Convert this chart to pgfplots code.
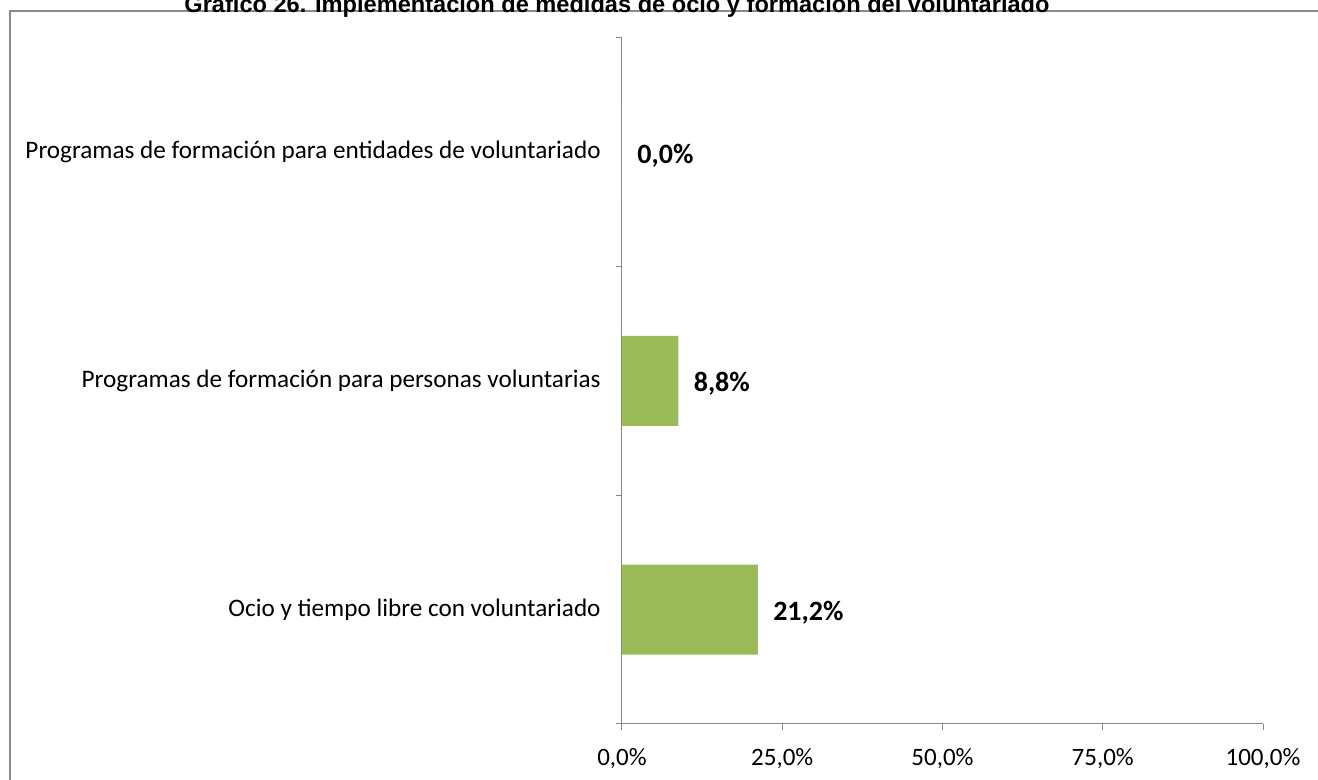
\documentclass[border=0pt]{standalone}
\usepackage{pgfplots}
\pgfplotsset{compat=1.18}
\usepackage{fontspec}
\setmainfont{Carlito}
\newfontfamily\arialfont{Liberation Sans}
\definecolor{bargreen}{HTML}{9BBB59}
\definecolor{axgray}{HTML}{868686}
\definecolor{framegray}{HTML}{8A8A8A}
\begin{document}
\begin{tikzpicture}[x=0.5pt,y=0.5pt]
\path[use as bounding box] (0,0) rectangle (1318,780);
\clip (0,0) rectangle (1318,780);
% frame
\draw[framegray, line width=1.2pt] (10,769) rectangle (1340,-20);
% title
\node[anchor=base, inner sep=0pt, font=\arialfont\bfseries\fontsize{11.8}{14}\selectfont] at (617,767) {Gráfico 26. Implementación de medidas de ocio y formación del voluntariado};
\begin{axis}[
  at={(311pt,28pt)}, anchor=south west,
  scale only axis, width=320.5pt, height=343pt,
  xmin=0, xmax=100, ymin=-0.5, ymax=2.5,
  axis x line*=bottom, axis y line*=left,
  axis line style={axgray, line width=0.5pt},
  xtick={0,25,50,75,100},
  xticklabels={0{,}0\%,25{,}0\%,50{,}0\%,75{,}0\%,100{,}0\%},
  ytick={-0.5,0.5,1.5,2.5},
  y tick label as interval,
  yticklabels={Ocio y tiempo libre con voluntariado,Programas de formación para personas voluntarias,Programas de formación para entidades de voluntariado},
  tick align=outside,
  major tick length=3pt,
  tick style={axgray, line width=0.5pt},
  xticklabel style={font=\fontsize{12.5}{15}\selectfont, inner sep=0pt, anchor=north, yshift=-9pt},
  yticklabel style={font=\fontsize{12.6}{15}\selectfont, inner sep=0pt, anchor=east, xshift=-7.5pt},
  xbar, bar width=45pt,
  nodes near coords={\pgfmathprintnumber[fixed,fixed zerofill,precision=1,use comma,assume math mode=true]{\pgfplotspointmeta}\%},
  nodes near coords style={font=\bfseries\fontsize{14}{16}\selectfont, anchor=west, inner sep=0pt, xshift=7.5pt, yshift=-1.5pt, text=black},
  point meta=explicit,
  clip=false,
]
\addplot[fill=bargreen, draw=none] coordinates {(21.2,0) [21.2] (8.8,1) [8.8] (0,2) [0.0]};
\end{axis}
\end{tikzpicture}
\end{document}
